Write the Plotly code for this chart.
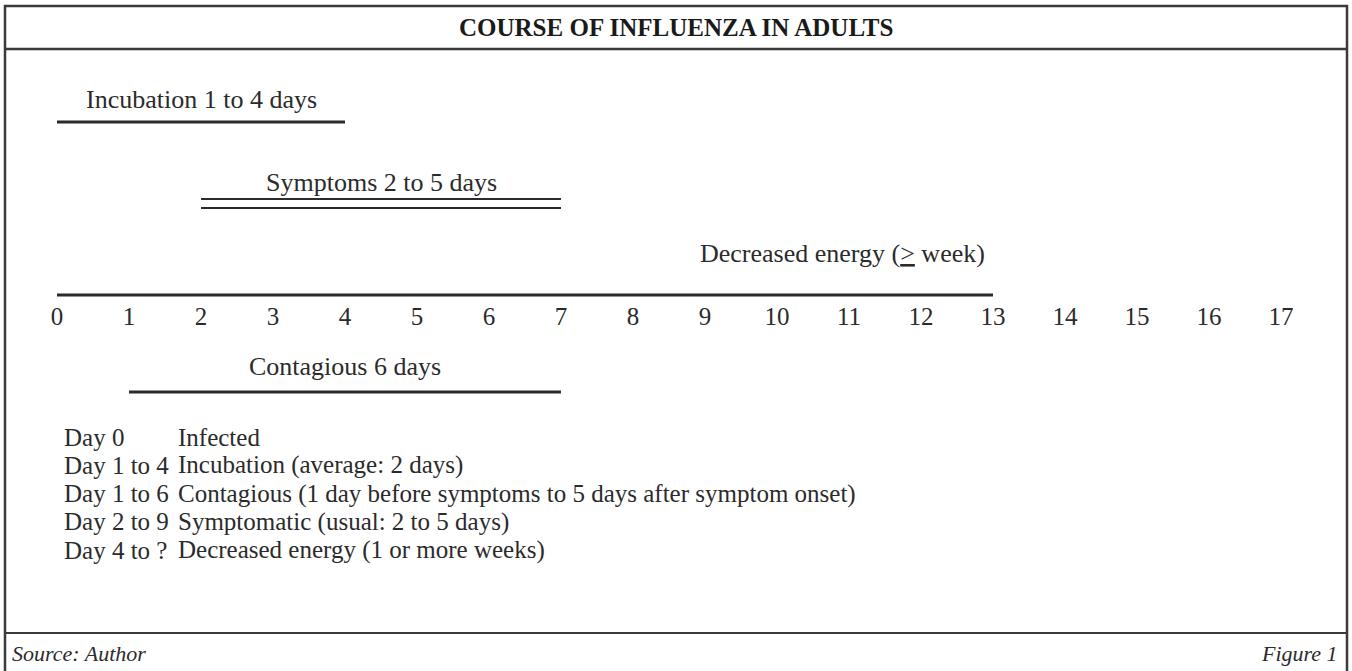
import plotly.graph_objects as go

# ---------------- data ----------------
title = "COURSE OF INFLUENZA IN ADULTS"
days = list(range(0, 18))
day_labels = [str(d) for d in days]

phase_names = ["Incubation 1 to 4 days", "Symptoms 2 to 5 days", "Contagious 6 days"]
phase_start = [0, 2, 1]
phase_end = [4, 7, 7]

timeline_start = 0
timeline_end = 13
energy_label = "Decreased energy (<u>></u> week)"

list_days = ["Day 0", "Day 1 to 4", "Day 1 to 6", "Day 2 to 9", "Day 4 to ?"]
list_text = [
    "Infected",
    "Incubation (average: 2 days)",
    "Contagious (1 day before symptoms to 5 days after symptom onset)",
    "Symptomatic (usual: 2 to 5 days)",
    "Decreased energy (1 or more weeks)",
]
source_text = "Source: Author"
figure_text = "Figure 1"

# ---------------- layout constants ----------------
W, H = 1352, 671
X0_PX, DAY_PX = 57, 72           # pixel of day 0 and pixels per day
FONT = "Liberation Serif"
INK = "#2b2b2b"
BORDER = "#3a3a3a"

phase_label_y = [99, 182, 366]
phase_line_y = [122, 203.5, 392]
double_gap = 4.5                  # half distance of the double line (symptoms)
phase_double = [False, True, False]
axis_y = 295
energy_label_y = 253
list_y0, list_dy = 437, 28.3
list_x_day, list_x_text = 62, 176

fig = go.Figure()

# phase lines
for name, s, e, ly, dbl in zip(phase_names, phase_start, phase_end, phase_line_y, phase_double):
    if dbl:
        for off in (-double_gap, double_gap):
            fig.add_trace(go.Scatter(x=[s, e], y=[ly + off, ly + off], mode="lines",
                                     line=dict(color=INK, width=2), hoverinfo="skip",
                                     showlegend=False))
    else:
        fig.add_trace(go.Scatter(x=[s, e], y=[ly, ly], mode="lines",
                                 line=dict(color=INK, width=3), hoverinfo="skip",
                                 showlegend=False))

# timeline / decreased energy line
fig.add_trace(go.Scatter(x=[timeline_start, timeline_end], y=[axis_y, axis_y], mode="lines",
                         line=dict(color=INK, width=3), hoverinfo="skip", showlegend=False))

annotations = []
for name, s, e, y in zip(phase_names, phase_start, phase_end, phase_label_y):
    annotations.append(dict(x=(s + e) / 2, y=y, xref="x", yref="y", text=name,
                            showarrow=False, xanchor="center", yanchor="middle",
                            font=dict(family=FONT, size=26, color=INK)))
annotations.append(dict(x=timeline_end, y=energy_label_y, xref="x", yref="y",
                        text=energy_label, showarrow=False, xanchor="right",
                        yanchor="middle", xshift=-6,
                        font=dict(family=FONT, size=26, color=INK)))

# title
annotations.append(dict(x=0.5, y=27, xref="paper", yref="y", text="<b>" + title + "</b>",
                        showarrow=False, xanchor="center", yanchor="middle",
                        font=dict(family=FONT, size=25, color="#1a1a1a")))

# definitions list
for i, (d, t) in enumerate(zip(list_days, list_text)):
    y = list_y0 + i * list_dy
    annotations.append(dict(x=list_x_day / W, y=y, xref="paper", yref="y", text=d,
                            showarrow=False, xanchor="left", yanchor="middle",
                            font=dict(family=FONT, size=25, color=INK)))
    annotations.append(dict(x=list_x_text / W, y=y, xref="paper", yref="y", text=t,
                            showarrow=False, xanchor="left", yanchor="middle",
                            font=dict(family=FONT, size=25, color=INK)))

# footer
annotations.append(dict(x=10 / W, y=653, xref="paper", yref="y", text="<i>" + source_text + "</i>",
                        showarrow=False, xanchor="left", yanchor="middle",
                        font=dict(family=FONT, size=22, color=INK)))
annotations.append(dict(x=1340 / W, y=653, xref="paper", yref="y", text="<i>" + figure_text + "</i>",
                        showarrow=False, xanchor="right", yanchor="middle",
                        font=dict(family=FONT, size=22, color=INK)))

shapes = [
    # outer frame
    dict(type="rect", xref="paper", yref="y", x0=5 / W, x1=1347 / W, y0=6, y1=H + 5,
         line=dict(color=BORDER, width=2.5), fillcolor="rgba(0,0,0,0)"),
    # title separator
    dict(type="line", xref="paper", yref="y", x0=5 / W, x1=1347 / W, y0=49, y1=49,
         line=dict(color=BORDER, width=2.5)),
    # footer separator
    dict(type="line", xref="paper", yref="y", x0=5 / W, x1=1347 / W, y0=633, y1=633,
         line=dict(color=BORDER, width=2)),
]

fig.update_layout(
    width=W, height=H,
    margin=dict(l=0, r=0, t=0, b=0),
    paper_bgcolor="white", plot_bgcolor="white",
    showlegend=False,
    annotations=annotations,
    shapes=shapes,
    xaxis=dict(range=[-X0_PX / DAY_PX, (W - X0_PX) / DAY_PX], domain=[0, 1],
               tickvals=days, ticktext=day_labels, showgrid=False, zeroline=False,
               showline=False, ticks="", anchor="free", position=1 - (axis_y + 4) / H,
               tickfont=dict(family=FONT, size=25, color=INK), fixedrange=True),
    yaxis=dict(range=[H, 0], domain=[0, 1], visible=False, fixedrange=True),
)

fig.write_html(
    "out.html",
    config={"displayModeBar": False},
    post_script="document.body.style.margin='0';document.body.style.overflow='hidden';",
)
